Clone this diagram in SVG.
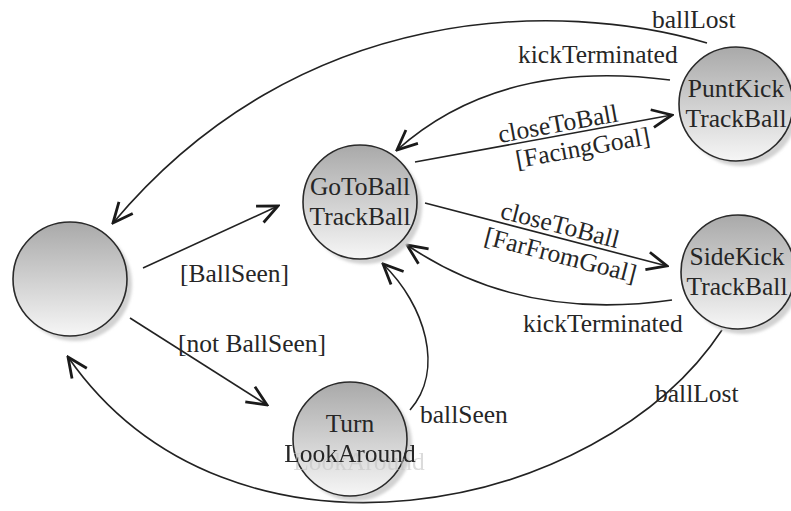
<svg xmlns="http://www.w3.org/2000/svg" width="791" height="511" viewBox="0 0 791 511">
  <defs>
    <linearGradient id="stateFill" x1="0" y1="0" x2="0" y2="1">
      <stop offset="0" stop-color="#a9a9a9"/>
      <stop offset="1" stop-color="#f6f6f6"/>
    </linearGradient>
    <filter id="soft" x="-20%" y="-20%" width="140%" height="140%">
      <feGaussianBlur stdDeviation="1.5"/>
    </filter>
    <!-- faint offset echo behind a text line -->
    <filter id="echo" x="-10%" y="-50%" width="130%" height="200%">
      <feOffset in="SourceAlpha" dx="9" dy="8" result="moved"/>
      <feFlood flood-color="#c4c4c4" flood-opacity="0.6"/>
      <feComposite operator="in" in2="moved" result="tinted"/>
      <feMerge>
        <feMergeNode in="tinted"/>
        <feMergeNode in="SourceGraphic"/>
      </feMerge>
    </filter>
    <marker id="open" viewBox="-22 -11 24 22" refX="0" refY="0" markerWidth="24" markerHeight="22" markerUnits="userSpaceOnUse" orient="auto">
      <path d="M-20,-9 L0,0 L-20,9" fill="none" stroke="#1a1a1a" stroke-width="2.8" stroke-linejoin="miter"/>
    </marker>
  </defs>
  <style>
    .shadow { fill: #d2d2d2; filter: url(#soft); }
    .state { fill: url(#stateFill); stroke: #2a2a2a; stroke-width: 1.6; }
    .name { font-family: "Liberation Serif", "Times New Roman", serif; font-size: 25.5px; fill: #262626; text-anchor: middle; }
    .edge { fill: none; stroke: #222; stroke-width: 1.6; marker-end: url(#open); }
    .label { font-family: "Liberation Serif", "Times New Roman", serif; font-size: 25.5px; fill: #262626; }
    .mid { text-anchor: middle; }
  </style>
  <rect width="791" height="511" fill="#ffffff"/>

  <!-- connectors -->
  <g id="connectors">
    <path class="edge" d="M143,268 L278,206"/>
    <path class="edge" d="M130,318 L267,405"/>
    <path class="edge" d="M415,162 L672,115"/>
    <path class="edge" d="M425,203 L667,266"/>
    <path class="edge" d="M670,80 Q500,58 397,150"/>
    <path class="edge" d="M672,300 Q520,322 407,245"/>
    <path class="edge" d="M707,43 C560,0 300,0 113,223"/>
    <path class="edge" d="M722,330 C600,515 230,590 68,357"/>
    <path class="edge" d="M410,410 C445,370 425,305 383,264"/>
  </g>

  <!-- connector labels -->
  <g id="labels">
    <text class="label" x="652" y="28">ballLost</text>
    <text class="label" x="518" y="63">kickTerminated</text>
    <g transform="translate(560,135) rotate(-10.3)">
      <text class="label mid" x="0" y="-3">closeToBall</text>
      <text class="label mid" x="20" y="25">[FacingGoal]</text>
    </g>
    <g transform="translate(557,237) rotate(14.4)">
      <text class="label mid" x="0" y="-4">closeToBall</text>
      <text class="label mid" x="8" y="25">[FarFromGoal]</text>
    </g>
    <text class="label" x="180" y="282">[BallSeen]</text>
    <text class="label" x="178" y="352">[not BallSeen]</text>
    <text class="label" x="523" y="332">kickTerminated</text>
    <text class="label" x="655" y="402">ballLost</text>
    <text class="label" x="420" y="423">ballSeen</text>
  </g>

  <!-- states -->
  <g id="initial">
    <circle class="shadow" cx="75" cy="284" r="57"/>
    <circle class="state" cx="70" cy="279" r="57"/>
  </g>
  <g id="goToBall">
    <circle class="shadow" cx="365" cy="207" r="57"/>
    <circle class="state" cx="360" cy="202" r="57"/>
    <text class="name" x="360" y="195">GoToBall</text>
    <text class="name" x="360" y="225">TrackBall</text>
  </g>
  <g id="puntKick">
    <circle class="shadow" cx="741" cy="109" r="57"/>
    <circle class="state" cx="736" cy="104" r="57"/>
    <text class="name" x="736" y="97">PuntKick</text>
    <text class="name" x="736" y="127">TrackBall</text>
  </g>
  <g id="sideKick">
    <circle class="shadow" cx="743" cy="277" r="57"/>
    <circle class="state" cx="738" cy="272" r="57"/>
    <text class="name" x="737" y="265">SideKick</text>
    <text class="name" x="737" y="295">TrackBall</text>
  </g>
  <g id="turn">
    <circle class="shadow" cx="355" cy="444" r="57"/>
    <circle class="state" cx="350" cy="439" r="57"/>
    <text class="name" x="350" y="432">Turn</text>
    <text class="name" x="350" y="462" filter="url(#echo)">LookAround</text>
  </g>
</svg>
